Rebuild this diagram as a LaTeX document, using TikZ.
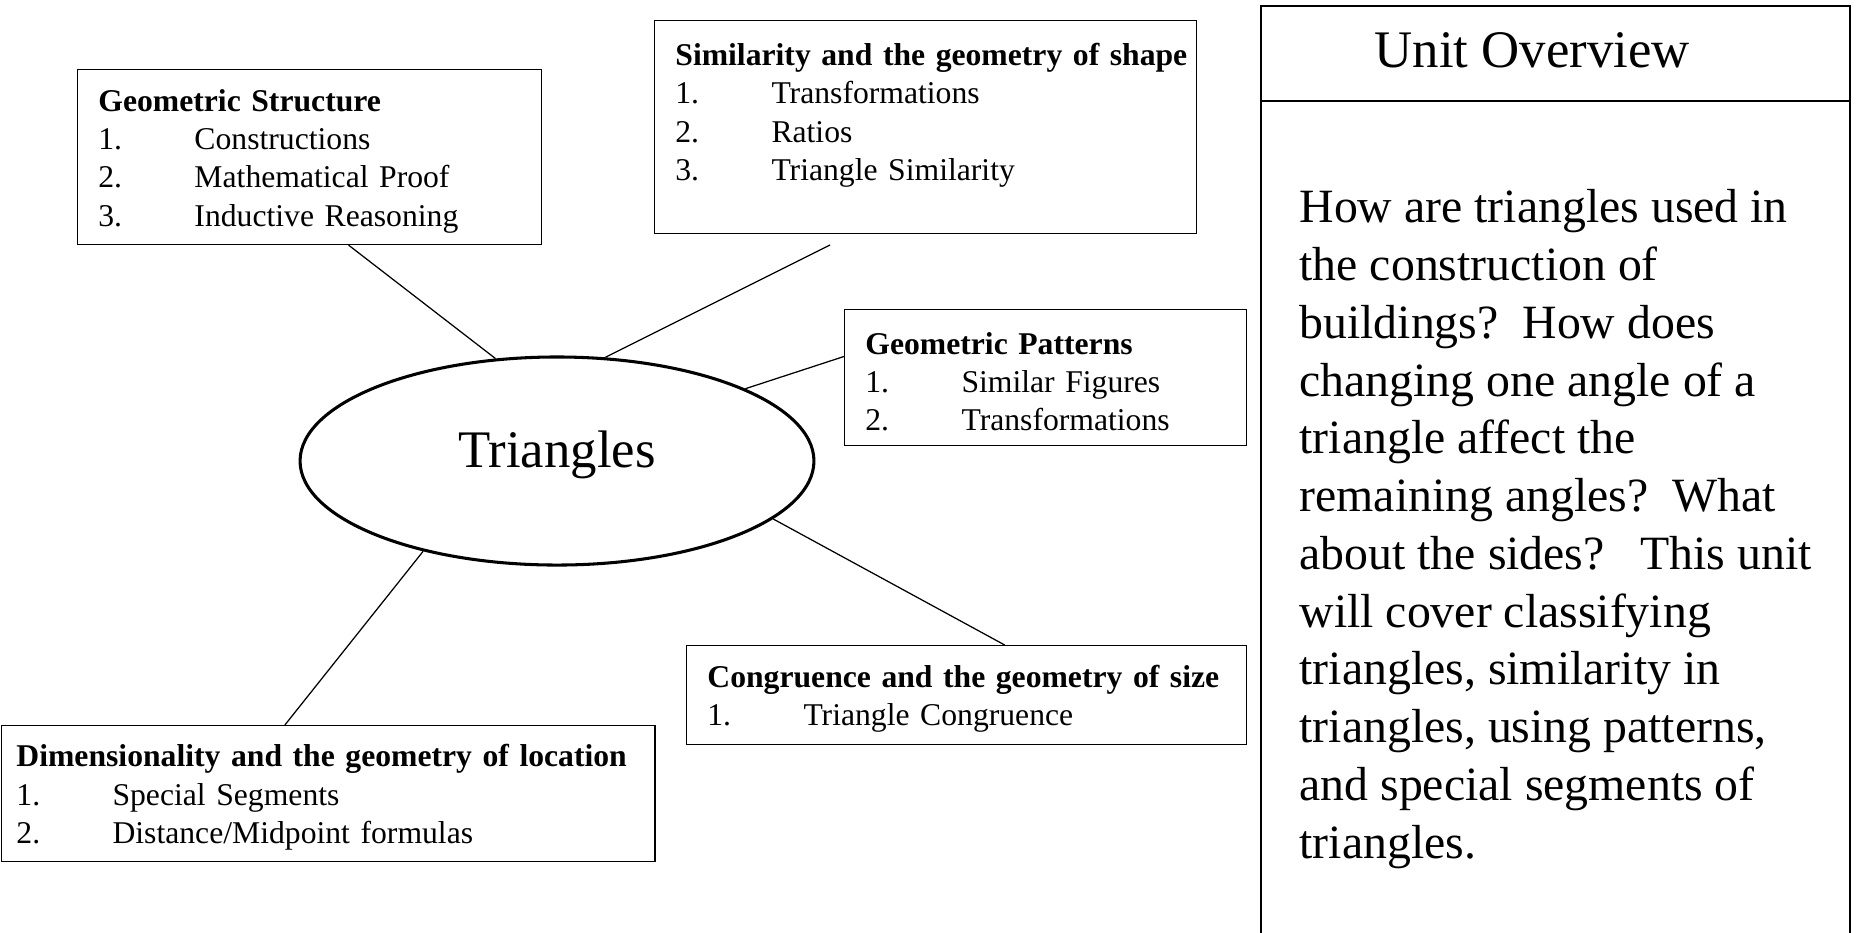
\documentclass[tikz,border=0pt]{standalone}
\usepackage{fontspec}
\setmainfont{Liberation Serif}
\usepackage{tikz}
\usetikzlibrary{shapes.geometric,calc}
\newcommand{\litem}[2]{\mbox{\makebox[34.6pt][l]{#1}#2}}
\newcommand{\bhead}[1]{\rule{0pt}{10.8pt}\mbox{\textbf{#1}}}
\tikzset{
  topic/.style={draw, line width=0.4pt, anchor=north west, align=left, font=\fontsize{11.4}{13.8}\selectfont, inner xsep=7.5pt, inner ysep=0pt},
  hub/.style={draw, ellipse, line width=1.1pt, inner sep=0pt, font=\fontsize{19}{22}\selectfont},
  spoke/.style={draw, line width=0.45pt},
  frame/.style={draw, line width=0.45pt}
}
\begin{document}
\begin{tikzpicture}[x=0.36pt, y=-0.36pt]
\useasboundingbox (0,0) rectangle (1857,932);
\node (tri) [hub, minimum width=185pt, minimum height=74.9pt, text depth=8.3pt] at (557,461) {Triangles};
\node (gs) [topic, text width=152pt, minimum height=63pt] at (77,69)
  {\bhead{Geometric Structure}\\\litem{1.}{Constructions}\\\litem{2.}{Mathematical Proof}\\\litem{3.}{Inductive Reasoning}};
\node (sim) [topic, text width=180.1pt, minimum height=76.7pt] at (654,20)
  {\bhead{Similarity and the geometry of shape}\\\litem{1.}{Transformations}\\\litem{2.}{Ratios}\\\litem{3.}{Triangle Similarity}\\\mbox{}};
\node (pat) [topic, text width=129.7pt, minimum height=49pt] at (844,309)
  {\bhead{Geometric Patterns}\\\litem{1.}{Similar Figures}\\\litem{2.}{Transformations}};
\node (con) [topic, text width=186.6pt, minimum height=35.6pt] at (686,645)
  {\bhead{Congruence and the geometry of size}\\\litem{1.}{Triangle Congruence}};
\node (dim) [topic, inner xsep=5.5pt, text width=224.4pt, minimum height=49pt] at (0.6,725)
  {\bhead{Dimensionality and the geometry of location}\\\litem{1.}{Special Segments}\\\litem{2.}{Distance/Midpoint formulas}};
\coordinate (simgap) at (830,245);
\draw[spoke] (tri.121) -- ($(gs.south west)!0.584!(gs.south east)$);
\draw[spoke] (tri.65) -- (simgap);
\draw[spoke] (tri.21) -- ($(pat.north west)!0.346!(pat.south west)$);
\draw[spoke] (tri.345) -- ($(con.north west)!0.568!(con.north east)$);
\draw[spoke] (tri.214) -- ($(dim.north west)!0.434!(dim.north east)$);
% unit overview panel
\draw[frame] (1261,945) -- (1261,6) -- (1850,6) -- (1850,945);
\draw[frame] (1261,101) -- (1850,101);
\node (ovtitle) [anchor=west, inner sep=0pt, font=\fontsize{19}{22}\selectfont] at (1374,50) {Unit Overview};
\node (ovtext) [anchor=north west, inner sep=0pt, align=left, font=\fontsize{17.2}{20.8}\selectfont] at (1299,189)
  {How are triangles used in\\the construction of\\buildings?\ \ How does\\changing one angle of a\\triangle affect the\\remaining angles?\ \ What\\about the sides?\ \ \ This unit\\will cover classifying\\triangles, similarity in\\triangles, using patterns,\\and special segments of\\triangles.};
\end{tikzpicture}
\end{document}
